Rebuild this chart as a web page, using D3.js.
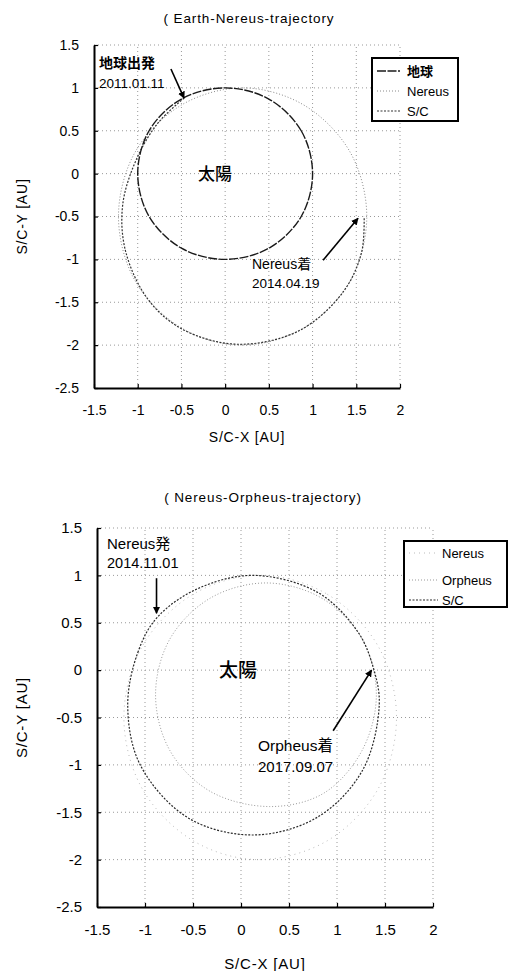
<!DOCTYPE html>
<html>
<head>
<meta charset="utf-8">
<script src="https://cdn.jsdelivr.net/npm/d3@7"></script>
<style>
  body { margin: 0; background: #fff; }
  text { font-family: "Liberation Sans", "Noto Sans CJK JP", sans-serif; fill: #000; }
  .jp { font-family: "Noto Sans CJK JP", sans-serif; }
</style>
</head>
<body>
<svg id="chart" width="508" height="971"></svg>
<script>
// axis ticks (AU)
const xTicks = [-1.5, -1, -0.5, 0, 0.5, 1, 1.5, 2]
const yTicks = [-2.5, -2, -1.5, -1, -0.5, 0, 0.5, 1, 1.5]
const xMinor = d3.range(-15, 21).map((d) => d / 10)
const yMinor = d3.range(-25, 16).map((d) => d / 10)

// orbits, [x, y] in AU
const earthOrbit = [[1, 0], [0.87, 0.5], [0.5, 0.87], [0, 1], [-0.5, 0.87], [-0.87, 0.5],
  [-1, 0], [-0.87, -0.5], [-0.5, -0.87], [0, -1], [0.5, -0.87], [0.87, -0.5]]
const nereusOrbit = [[0.2, 1.0], [0.9, 0.8], [1.43, 0.25], [1.62, -0.5], [1.43, -1.25], [0.9, -1.8],
  [0.18, -2.0], [-0.5, -1.8], [-1.03, -1.25], [-1.22, -0.5], [-1.03, 0.25], [-0.5, 0.8]]
const scTrack1 = [[-0.47, 0.88], [-0.76, 0.6], [-1.0, 0.2], [-1.17, -0.35], [-1.14, -0.9], [-0.88, -1.47],
  [-0.48, -1.82], [0.15, -1.99], [0.85, -1.83], [1.35, -1.38], [1.56, -0.92], [1.59, -0.5]]

const orpheusOrbit = [[0.26, 0.92], [0.84, 0.76], [1.26, 0.33], [1.41, -0.26], [1.26, -0.85], [0.86, -1.3],
  [0.3, -1.44], [-0.32, -1.28], [-0.74, -0.85], [-0.89, -0.26], [-0.74, 0.33], [-0.32, 0.76]]
const scTrack2 = [[-0.87, 0.56], [-1.07, 0.2], [-1.18, -0.37], [-1.05, -1.0], [-0.55, -1.56], [0.13, -1.74],
  [0.8, -1.55], [1.27, -1.05], [1.44, -0.37], [1.38, 0.02], [1.22, 0.4], [0.8, 0.82], [0.13, 1.0], [-0.45, 0.86]]

// mission events: [tail, tip] of the arrows in AU
const departure1 = [[-0.62, 1.22], [-0.47, 0.88]]
const arrival1 = [[1.12, -1.01], [1.52, -0.52]]
const departure2 = [[-0.88, 0.97], [-0.88, 0.6]]
const arrival2 = [[0.96, -0.64], [1.36, 0.0]]

const svg = d3.select('#chart')
const fmt = (d) => String(d)

svg.append('defs').append('marker')
  .attr('id', 'head')
  .attr('viewBox', '0 0 10 10')
  .attr('refX', 9).attr('refY', 5)
  .attr('markerWidth', 4.5).attr('markerHeight', 4.5)
  .attr('orient', 'auto')
  .append('path').attr('d', 'M0,0L10,5L0,10z').attr('fill', '#000')

function drawPanel (cfg) {
  const g = svg.append('g')
  const x = d3.scaleLinear().domain([-1.5, 2]).range([cfg.left, cfg.right])
  const y = d3.scaleLinear().domain([-2.5, 1.5]).range([cfg.bottom, cfg.top])

  // dotted grid, the last ones make the top/right border
  g.append('g').selectAll('line').data(xTicks.slice(1)).join('line')
    .attr('x1', (d) => x(d)).attr('x2', (d) => x(d))
    .attr('y1', y(-2.5)).attr('y2', y(1.5))
    .attr('stroke', '#999').attr('stroke-dasharray', '1,3')
  g.append('g').selectAll('line').data(yTicks.slice(1)).join('line')
    .attr('y1', (d) => y(d)).attr('y2', (d) => y(d))
    .attr('x1', x(-1.5)).attr('x2', x(2))
    .attr('stroke', '#999').attr('stroke-dasharray', '1,3')

  const line = d3.line().x((d) => x(d[0])).y((d) => y(d[1]))

  cfg.series.forEach((s) => {
    g.append('path')
      .datum(s.data)
      .attr('d', line.curve(s.closed ? d3.curveCatmullRomClosed : d3.curveCatmullRom))
      .attr('fill', 'none')
      .attr('stroke', s.stroke)
      .attr('stroke-width', s.width)
      .attr('stroke-dasharray', s.dash)
  })

  // axes with minor ticks pointing in
  const xAxis = g.append('g').attr('transform', `translate(0,${y(-2.5)})`)
  xAxis.call(d3.axisBottom(x).tickValues(xMinor).tickSize(-3).tickSizeOuter(0).tickFormat(''))
  xAxis.call(d3.axisBottom(x).tickValues(xTicks).tickSize(-4).tickSizeOuter(0).tickPadding(cfg.pad).tickFormat(fmt))
  const yAxis = g.append('g').attr('transform', `translate(${x(-1.5)},0)`)
  yAxis.call(d3.axisLeft(y).tickValues(yMinor).tickSize(-3).tickSizeOuter(0).tickFormat(''))
  yAxis.call(d3.axisLeft(y).tickValues(yTicks).tickSize(-4).tickSizeOuter(0).tickPadding(15).tickFormat(fmt))
  g.selectAll('.domain').attr('stroke', '#000').attr('stroke-width', 2)
  g.selectAll('.tick line').attr('stroke', '#000').attr('stroke-width', 1.2)
  g.selectAll('.tick text').attr('font-size', cfg.tickSize).attr('font-family', null)

  // titles
  g.append('text').attr('x', cfg.titleX).attr('y', cfg.titleY)
    .attr('text-anchor', 'middle').attr('font-size', 13.5).attr('letter-spacing', 0.9)
    .text(cfg.title)
  g.append('text').attr('x', (cfg.left + cfg.right) / 2).attr('y', cfg.xLabelY)
    .attr('text-anchor', 'middle').attr('font-size', cfg.tickSize).attr('letter-spacing', 0.8)
    .text('S/C-X [AU]')
  g.append('text')
    .attr('transform', `translate(27,${(cfg.top + cfg.bottom) / 2}) rotate(-90)`)
    .attr('text-anchor', 'middle').attr('font-size', cfg.tickSize).attr('letter-spacing', 0.8)
    .text('S/C-Y [AU]')

  // sun
  g.append('text').attr('class', 'jp')
    .attr('x', cfg.sunX).attr('y', y(0)).attr('dy', '0.35em')
    .attr('text-anchor', 'middle').attr('font-size', cfg.sunSize).attr('font-weight', 500)
    .text('太陽')

  // event arrows and labels
  cfg.events.forEach((e) => {
    g.append('line')
      .attr('x1', x(e.arrow[0][0])).attr('y1', y(e.arrow[0][1]))
      .attr('x2', x(e.arrow[1][0])).attr('y2', y(e.arrow[1][1]))
      .attr('stroke', '#000').attr('stroke-width', 1.6)
      .attr('marker-end', 'url(#head)')
    g.append('text').attr('x', e.tx).attr('y', e.ty)
      .attr('font-size', e.size).attr('font-weight', e.bold ? 'bold' : null)
      .text(e.label)
    g.append('text').attr('x', e.tx).attr('y', e.ty + e.gap)
      .attr('font-size', e.size - 0.5)
      .text(e.date)
  })

  // legend
  const lg = g.append('g')
  lg.append('rect')
    .attr('x', cfg.legend.x).attr('y', cfg.legend.y)
    .attr('width', cfg.legend.w).attr('height', cfg.legend.h)
    .attr('fill', '#fff').attr('stroke', '#000').attr('stroke-width', 2)
  cfg.legend.items.forEach((it, i) => {
    const s = cfg.series.find((d) => d.name === it)
    const ry = cfg.legend.rows[i]
    lg.append('line')
      .attr('x1', cfg.legend.x + 5).attr('x2', cfg.legend.x + cfg.legend.lw)
      .attr('y1', ry).attr('y2', ry)
      .attr('stroke', s.stroke).attr('stroke-width', s.width).attr('stroke-dasharray', s.dash)
    lg.append('text')
      .attr('x', cfg.legend.tx).attr('y', ry).attr('dy', '0.35em')
      .attr('font-size', 13).attr('font-weight', it === '地球' ? 'bold' : null)
      .text(it)
  })
}

drawPanel({
  left: 94, right: 400, top: 45, bottom: 388,
  pad: 17, tickSize: 14,
  title: '( Earth-Nereus-trajectory', titleX: 249, titleY: 23,
  xLabelY: 442, sunX: 215, sunSize: 17,
  series: [
    { name: 'Nereus', data: nereusOrbit, closed: true, stroke: '#8a8a8a', width: 1, dash: '1,2' },
    { name: 'S/C', data: scTrack1, closed: false, stroke: '#333', width: 1.2, dash: '2,1.5' },
    { name: '地球', data: earthOrbit, closed: true, stroke: '#1a1a1a', width: 1.4, dash: '9,1.5' }
  ],
  events: [
    { arrow: departure1, label: '地球出発', date: '2011.01.11', tx: 99, ty: 68, gap: 20, size: 14, bold: true },
    { arrow: arrival1, label: 'Nereus着', date: '2014.04.19', tx: 252, ty: 269, gap: 19, size: 14, bold: false }
  ],
  legend: {
    x: 372, y: 58, w: 86, h: 63, lw: 28, tx: 407,
    rows: [71, 91, 111], items: ['地球', 'Nereus', 'S/C']
  }
})

drawPanel({
  left: 97, right: 433, top: 528, bottom: 907,
  pad: 17, tickSize: 15,
  title: '( Nereus-Orpheus-trajectory)', titleX: 263, titleY: 502,
  xLabelY: 969, sunX: 238, sunSize: 19,
  series: [
    { name: 'Nereus', data: nereusOrbit, closed: true, stroke: '#bbb', width: 1, dash: '1,4' },
    { name: 'Orpheus', data: orpheusOrbit, closed: true, stroke: '#999', width: 1, dash: '1,2' },
    { name: 'S/C', data: scTrack2, closed: true, stroke: '#2a2a2a', width: 1.2, dash: '2,1.5' }
  ],
  events: [
    { arrow: departure2, label: 'Nereus発', date: '2014.11.01', tx: 107, ty: 549, gap: 19, size: 15, bold: false },
    { arrow: arrival2, label: 'Orpheus着', date: '2017.09.07', tx: 258, ty: 751, gap: 21, size: 15.5, bold: false }
  ],
  legend: {
    x: 404, y: 541, w: 103, h: 66, lw: 34, tx: 442,
    rows: [553, 580, 600], items: ['Nereus', 'Orpheus', 'S/C']
  }
})
</script>
</body>
</html>
